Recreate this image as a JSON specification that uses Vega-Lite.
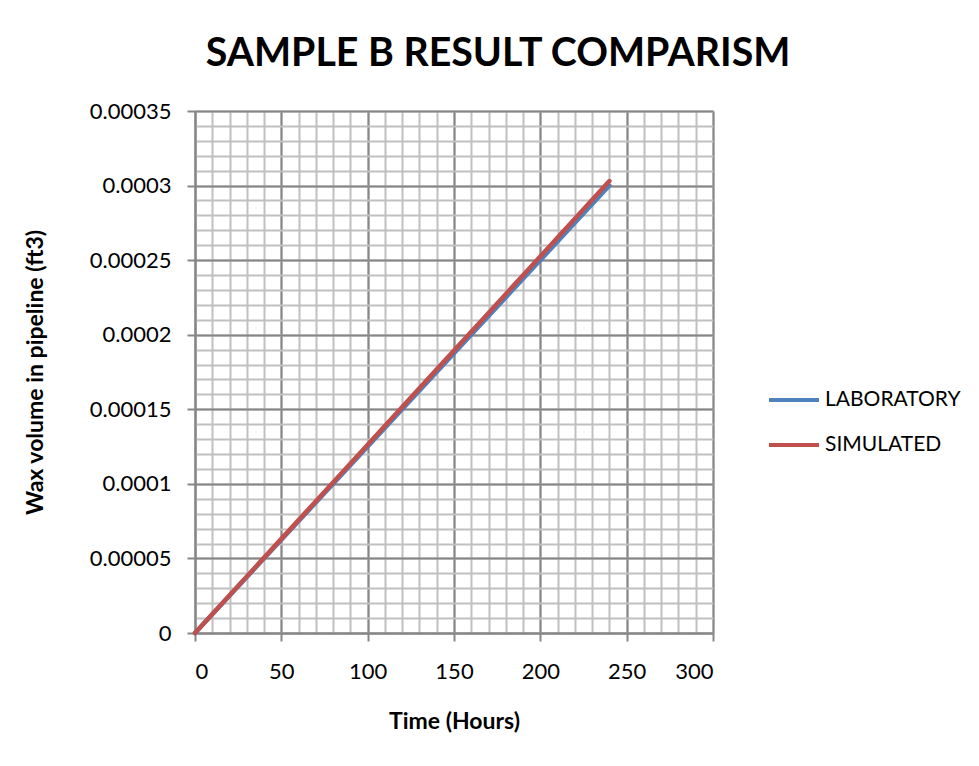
{
  "$schema": "https://vega.github.io/schema/vega-lite/v6.json",
  "width": 518,
  "height": 522,
  "autosize": "none",
  "padding": {"left": 195, "top": 111, "right": 266, "bottom": 133},
  "background": "white",
  "title": {
    "text": "SAMPLE B RESULT COMPARISM",
    "font": "Lato",
    "fontSize": 39.3,
    "fontWeight": "bold",
    "color": "#000000",
    "anchor": "middle",
    "dx": 44,
    "offset": 26
  },
  "config": {
    "font": "Lato",
    "view": {"stroke": null}
  },
  "data": {
    "values": [
      {"hours": 0, "volume": 0, "series": "LABORATORY"},
      {"hours": 24, "volume": 0.00003, "series": "LABORATORY"},
      {"hours": 48, "volume": 0.00006, "series": "LABORATORY"},
      {"hours": 72, "volume": 0.00009, "series": "LABORATORY"},
      {"hours": 96, "volume": 0.00012, "series": "LABORATORY"},
      {"hours": 120, "volume": 0.00015, "series": "LABORATORY"},
      {"hours": 144, "volume": 0.00018, "series": "LABORATORY"},
      {"hours": 168, "volume": 0.00021, "series": "LABORATORY"},
      {"hours": 192, "volume": 0.00024, "series": "LABORATORY"},
      {"hours": 216, "volume": 0.00027, "series": "LABORATORY"},
      {"hours": 240, "volume": 0.0003, "series": "LABORATORY"},
      {"hours": 0, "volume": 0, "series": "SIMULATED"},
      {"hours": 24, "volume": 0.0000303, "series": "SIMULATED"},
      {"hours": 48, "volume": 0.0000606, "series": "SIMULATED"},
      {"hours": 72, "volume": 0.0000909, "series": "SIMULATED"},
      {"hours": 96, "volume": 0.0001212, "series": "SIMULATED"},
      {"hours": 120, "volume": 0.0001515, "series": "SIMULATED"},
      {"hours": 144, "volume": 0.0001818, "series": "SIMULATED"},
      {"hours": 168, "volume": 0.0002121, "series": "SIMULATED"},
      {"hours": 192, "volume": 0.0002424, "series": "SIMULATED"},
      {"hours": 216, "volume": 0.0002727, "series": "SIMULATED"},
      {"hours": 240, "volume": 0.000303, "series": "SIMULATED"}
    ]
  },
  "layer": [
    {
      "mark": {"type": "line", "opacity": 0},
      "encoding": {
        "x": {
          "field": "hours",
          "type": "quantitative",
          "scale": {"domain": [0, 300], "nice": false},
          "axis": {
            "orient": "top",
            "values": [0, 10, 20, 30, 40, 50, 60, 70, 80, 90, 100, 110, 120, 130, 140, 150, 160, 170, 180, 190, 200, 210, 220, 230, 240, 250, 260, 270, 280, 290, 300],
            "grid": true,
            "gridColor": "#c0c0c0",
            "gridWidth": 2,
            "gridOpacity": 1,
            "labels": false,
            "ticks": false,
            "domain": false,
            "title": null
          }
        },
        "y": {
          "field": "volume",
          "type": "quantitative",
          "scale": {"domain": [0, 0.00035], "nice": false},
          "axis": {
            "orient": "right",
            "values": [0, 0.00001, 0.00002, 0.00003, 0.00004, 0.00005, 0.00006, 0.00007, 0.00008, 0.00009, 0.0001, 0.00011, 0.00012, 0.00013, 0.00014, 0.00015, 0.00016, 0.00017, 0.00018, 0.00019, 0.0002, 0.00021, 0.00022, 0.00023, 0.00024, 0.00025, 0.00026, 0.00027, 0.00028, 0.00029, 0.0003, 0.00031, 0.00032, 0.00033, 0.00034, 0.00035],
            "grid": true,
            "gridColor": "#c0c0c0",
            "gridWidth": 2,
            "gridOpacity": 1,
            "labels": false,
            "ticks": false,
            "domain": false,
            "title": null
          }
        },
        "detail": {"field": "series"}
      }
    },
    {
      "mark": {"type": "line", "strokeWidth": 4.5, "strokeCap": "round"},
      "encoding": {
        "x": {
          "field": "hours",
          "type": "quantitative",
          "scale": {"domain": [0, 300], "nice": false},
          "axis": {
            "orient": "bottom",
            "values": [0, 50, 100, 150, 200, 250, 300],
            "grid": true,
            "gridColor": "#868686",
            "gridWidth": 2,
            "gridOpacity": 1,
            "domainColor": "#868686",
            "domainWidth": 2,
            "tickColor": "#868686",
            "tickWidth": 2,
            "tickSize": 8,
            "labelFontSize": 22,
            "labelColor": "#000000",
            "labelPadding": 20,
            "title": "Time (Hours)",
            "titleFontSize": 23,
            "titleFontWeight": "bold",
            "titleColor": "#000000",
            "titlePadding": 28
          }
        },
        "y": {
          "field": "volume",
          "type": "quantitative",
          "scale": {"domain": [0, 0.00035], "nice": false},
          "axis": {
            "orient": "left",
            "values": [0, 0.00005, 0.0001, 0.00015, 0.0002, 0.00025, 0.0003, 0.00035],
            "labelExpr": "datum.value + ''",
            "grid": true,
            "gridColor": "#868686",
            "gridWidth": 2,
            "gridOpacity": 1,
            "domainColor": "#868686",
            "domainWidth": 2,
            "tickColor": "#868686",
            "tickWidth": 2,
            "tickSize": 8,
            "labelFontSize": 22,
            "labelColor": "#000000",
            "labelPadding": 16,
            "title": "Wax volume in pipeline (ft3)",
            "titleFontSize": 23,
            "titleFontWeight": "bold",
            "titleColor": "#000000",
            "titlePadding": 42
          }
        },
        "color": {
          "field": "series",
          "type": "nominal",
          "scale": {"domain": ["LABORATORY", "SIMULATED"], "range": ["#4f81bd", "#c0504d"]},
          "legend": {
            "title": null,
            "orient": "none",
            "legendX": 572,
            "legendY": 278,
            "symbolType": "stroke",
            "symbolSize": 2500,
            "symbolStrokeWidth": 4,
            "clipHeight": 22,
            "rowPadding": 23,
            "labelFontSize": 21,
            "labelColor": "#000000",
            "labelOffset": 4
          }
        }
      }
    }
  ],
  "resolve": {"axis": {"x": "independent", "y": "independent"}}
}
